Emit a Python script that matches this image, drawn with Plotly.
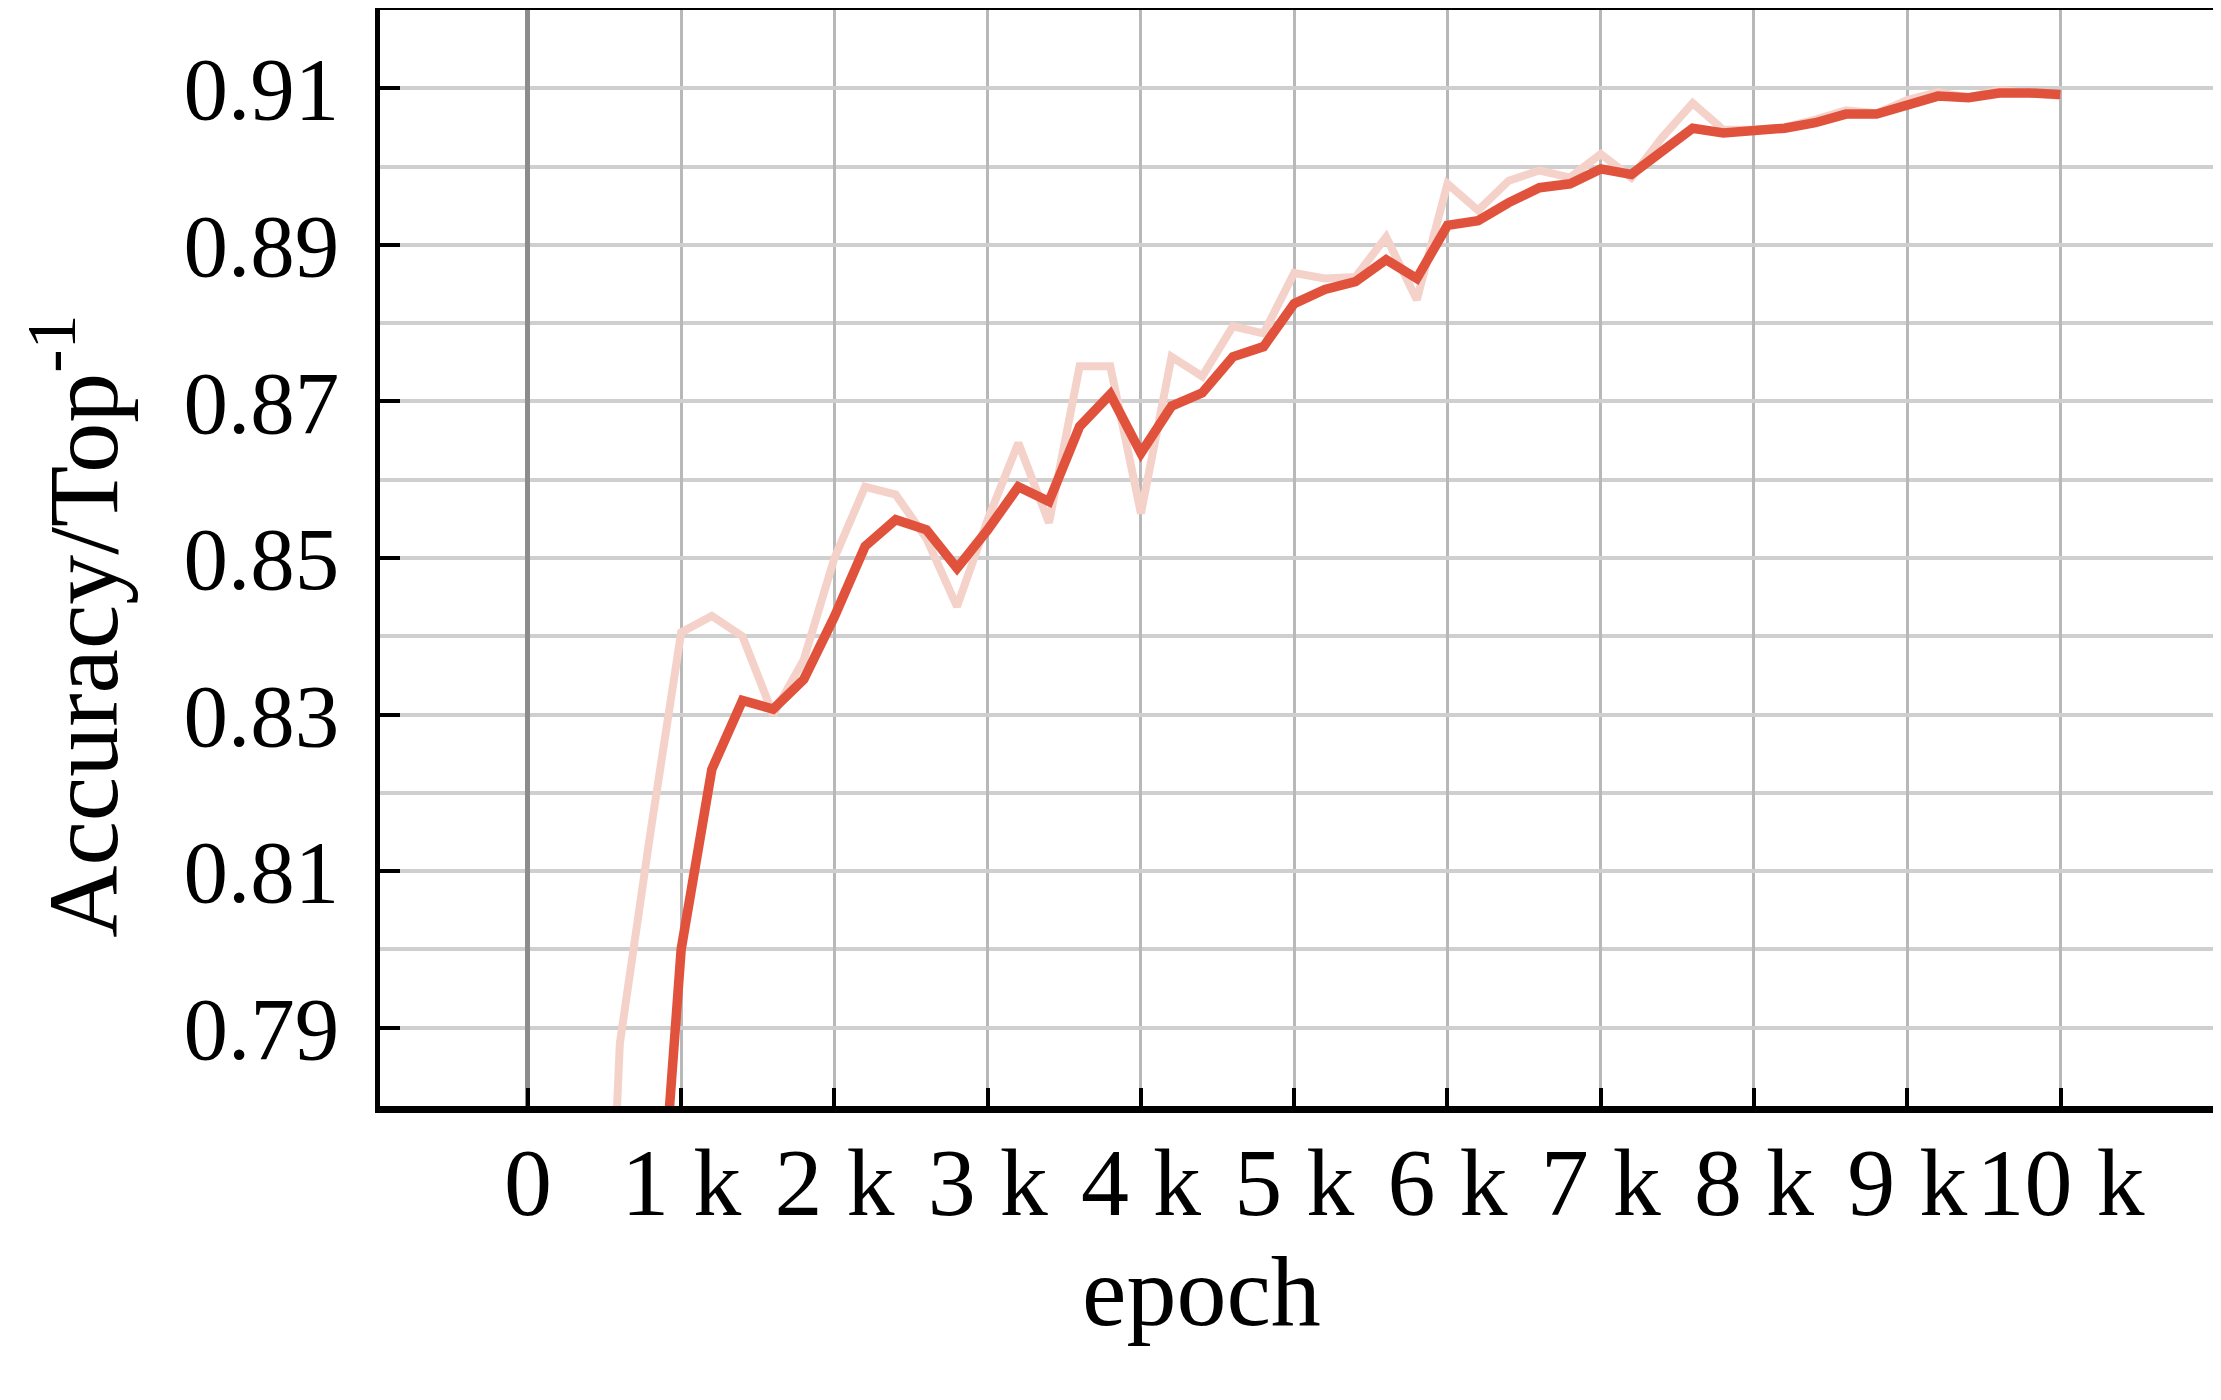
import plotly.graph_objects as go

# training steps (every 200) and accuracy curves
steps = list(range(400, 10001, 200))

acc_raw = [
    0.700, 0.788, 0.815, 0.8405, 0.8426, 0.8400, 0.8300, 0.8370, 0.8500, 0.8591,
    0.8581, 0.8525, 0.8438, 0.8549, 0.8647, 0.8545, 0.8745, 0.8745, 0.8557, 0.8757,
    0.8732, 0.8796, 0.8787, 0.8864, 0.8857, 0.8859, 0.8910, 0.8830, 0.8978, 0.8944,
    0.8982, 0.8995, 0.8986, 0.9016, 0.8986, 0.9037, 0.9081, 0.9047, 0.9047, 0.9050,
    0.9060, 0.9072, 0.9068, 0.9085, 0.9095, 0.9088, 0.9098, 0.9094, 0.9090,
]

acc_smooth = [
    0.600, 0.664, 0.747, 0.800, 0.823, 0.8318, 0.8307, 0.8345, 0.8425, 0.8515,
    0.8549, 0.8536, 0.8487, 0.8536, 0.8591, 0.8572, 0.8668, 0.8709, 0.8634, 0.8694,
    0.8711, 0.8757, 0.8770, 0.8825, 0.8843, 0.8853, 0.8881, 0.8857, 0.8925, 0.8931,
    0.8954, 0.8973, 0.8978, 0.8997, 0.8990, 0.9020, 0.9049, 0.9043, 0.9045, 0.9049,
    0.9056, 0.9067, 0.9067, 0.9079, 0.9090, 0.9088, 0.9094, 0.9094, 0.9092,
]

x_tickvals = list(range(0, 10001, 1000))
x_ticktext = ["0"] + [f"{i} k" for i in range(1, 11)]
y_tickvals = [0.79, 0.81, 0.83, 0.85, 0.87, 0.89, 0.91]
y_ticktext = ["0.79", "0.81", "0.83", "0.85", "0.87", "0.89", "0.91"]

FONT = "Liberation Serif, Times New Roman, serif"

fig = go.Figure()

fig.add_trace(go.Scatter(
    x=steps, y=acc_raw, mode="lines",
    line=dict(color="#f5d2c9", width=8),
    hoverinfo="skip", showlegend=False,
))
fig.add_trace(go.Scatter(
    x=steps, y=acc_smooth, mode="lines",
    line=dict(color="#e1523d", width=9.5),
    showlegend=False,
))

# the page adds an 8px body margin, so margins are trimmed by that much
fig.update_layout(
    width=2221,
    height=1400,
    margin=dict(l=372, r=16, t=2, b=302),
    paper_bgcolor="white",
    plot_bgcolor="white",
    font=dict(family=FONT, color="black"),
    xaxis=dict(
        range=[-965, 10995],
        automargin=False,
        tickmode="array",
        tickvals=x_tickvals,
        ticktext=x_ticktext,
        tickfont=dict(size=96, family=FONT, color="black"),
        ticks="inside",
        ticklen=18,
        tickwidth=4,
        tickcolor="black",
        ticklabelstandoff=-13,
        showgrid=True,
        gridcolor="#b8b8b8",
        gridwidth=3,
        zeroline=True,
        zerolinecolor="#8c8c8c",
        zerolinewidth=5,
        showline=True,
        linecolor="black",
        linewidth=7,
        mirror=True,
    ),
    yaxis=dict(
        range=[0.78, 0.92],
        automargin=False,
        tickmode="array",
        tickvals=y_tickvals,
        ticktext=y_ticktext,
        tickfont=dict(size=89, family=FONT, color="black"),
        ticks="inside",
        ticklen=20,
        tickwidth=4,
        tickcolor="black",
        ticklabelstandoff=18,
        showgrid=True,
        gridcolor="#cfcfcf",
        gridwidth=4,
        minor=dict(dtick=0.01, tick0=0.78, showgrid=True,
                   gridcolor="#cfcfcf", gridwidth=4, ticks=""),
        zeroline=False,
        showline=True,
        linecolor="black",
        linewidth=5,
        mirror=True,
    ),
)

# axis titles placed like the original figure
fig.add_annotation(
    text="epoch", xref="paper", yref="paper",
    x=0.448, y=-0.169, xanchor="center", yanchor="middle",
    showarrow=False, font=dict(size=100, family=FONT, color="black"),
)
fig.add_annotation(
    text="Accuracy/Top<sup>-1</sup>", xref="paper", yref="paper",
    x=-0.1656, y=0.4377, xanchor="center", yanchor="middle", textangle=-90,
    showarrow=False, font=dict(size=100, family=FONT, color="black"),
)

fig.write_html("out.html")
